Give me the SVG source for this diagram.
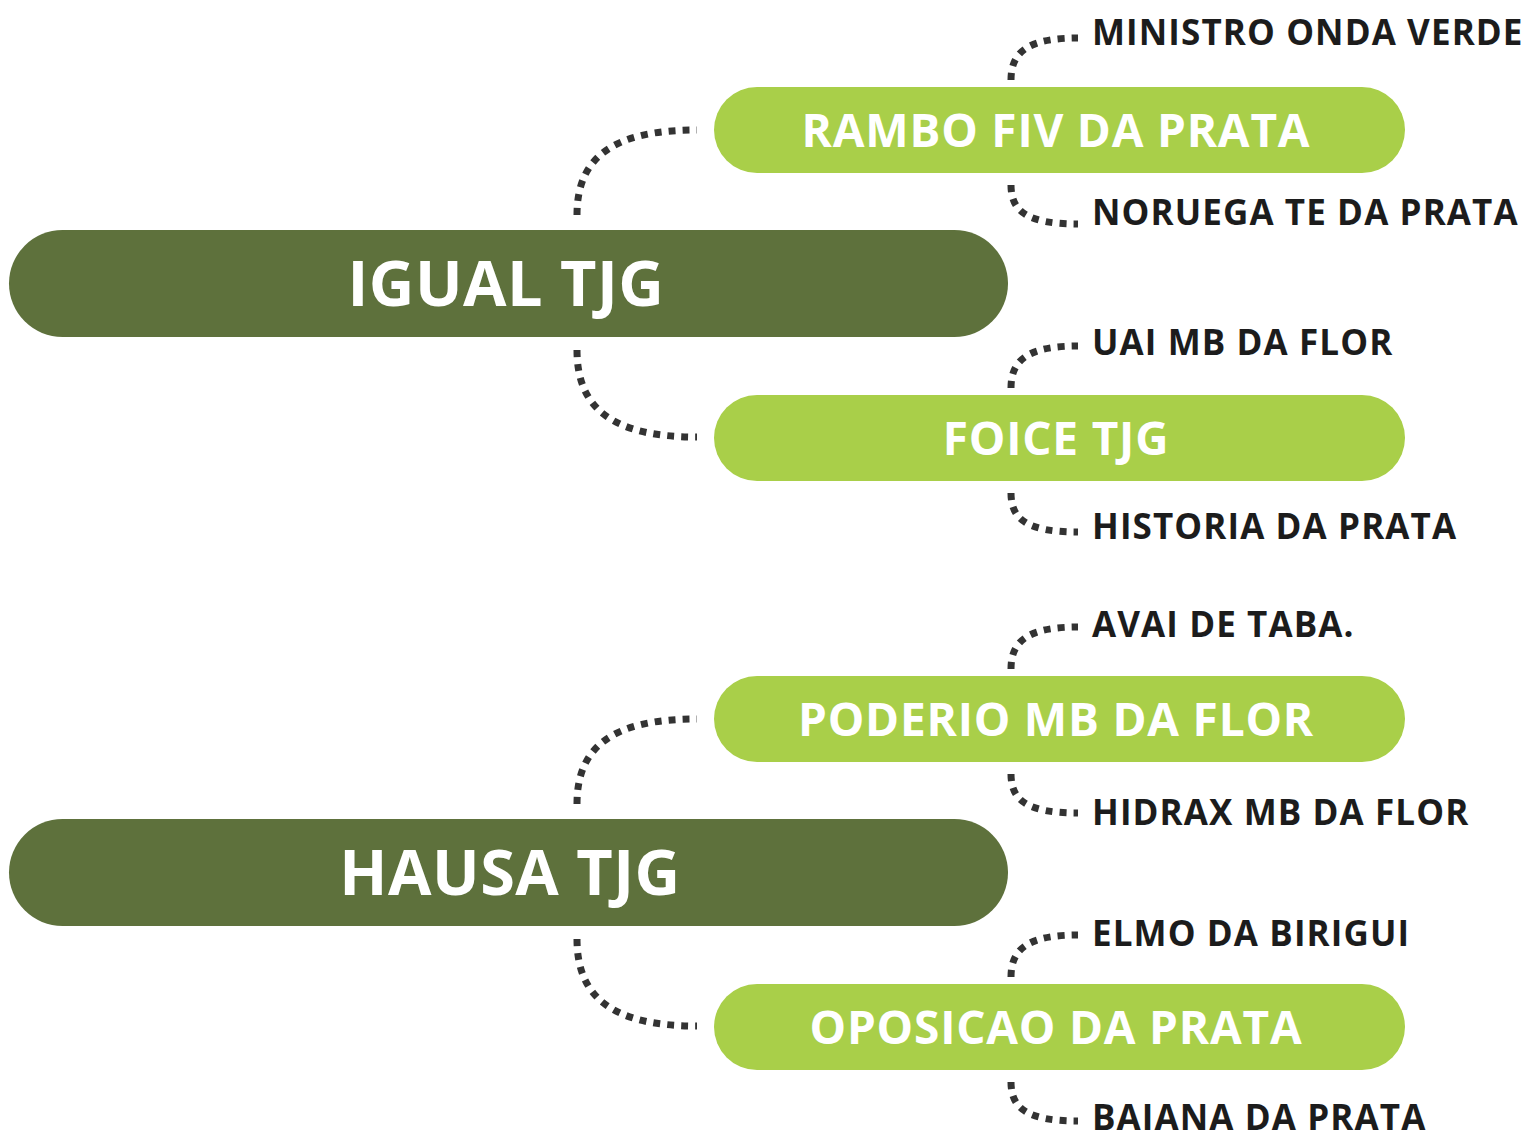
<svg xmlns="http://www.w3.org/2000/svg" width="1526" height="1134" viewBox="0 0 1526 1134">
<style>
.main{fill:#5e713c}
.sub{fill:#a9cf49}
.mt{font-family:"Open Sans","Liberation Sans",sans-serif;font-weight:bold;fill:#fff;font-size:63px;letter-spacing:0.5px;text-anchor:middle}
.st{font-family:"Open Sans","Liberation Sans",sans-serif;font-weight:bold;fill:#fff;font-size:46px;letter-spacing:0.8px;text-anchor:middle}
.lt{font-family:"Open Sans","Liberation Sans",sans-serif;font-weight:bold;fill:#1c1c1c;font-size:35px;letter-spacing:1.1px}
.c{fill:none;stroke:#333;stroke-width:7;stroke-dasharray:7 7}
</style>
<rect width="1526" height="1134" fill="#fff"/>
<g id="connectors">
<path class="c" d="M577,215 C577,158 612,130 697,130"/>
<path class="c" d="M577,350 C577,408 612,437 697,437"/>
<path class="c" d="M1011,80 C1011,52 1028,38 1078,38"/>
<path class="c" d="M1011,185 C1011,212 1028,224 1078,224"/>
<path class="c" d="M1011,388 C1011,360 1028,346 1078,346"/>
<path class="c" d="M1011,493 C1011,520 1028,532 1078,532"/>
<path class="c" d="M577,804 C577,747 612,719 697,719"/>
<path class="c" d="M577,939 C577,997 612,1026 697,1026"/>
<path class="c" d="M1011,669 C1011,641 1028,627 1078,627"/>
<path class="c" d="M1011,774 C1011,801 1028,813 1078,813"/>
<path class="c" d="M1011,977 C1011,949 1028,935 1078,935"/>
<path class="c" d="M1011,1082 C1011,1109 1028,1121 1078,1121"/>
</g>
<g id="igual"><rect class="main" x="9" y="230" width="999" height="107" rx="53.5"/><text class="mt" x="506" y="306">IGUAL TJG</text></g>
<g id="rambo"><rect class="sub" x="714" y="87" width="691" height="86" rx="43"/><text class="st" x="1056" y="147">RAMBO FIV DA PRATA</text></g>
<g id="foice"><rect class="sub" x="714" y="395" width="691" height="86" rx="43"/><text class="st" x="1056" y="455">FOICE TJG</text></g>
<g id="hausa"><rect class="main" x="9" y="819" width="999" height="107" rx="53.5"/><text class="mt" x="510" y="895">HAUSA TJG</text></g>
<g id="poderio"><rect class="sub" x="714" y="676" width="691" height="86" rx="43"/><text class="st" x="1056" y="736">PODERIO MB DA FLOR</text></g>
<g id="oposicao"><rect class="sub" x="714" y="984" width="691" height="86" rx="43"/><text class="st" x="1056" y="1044">OPOSICAO DA PRATA</text></g>
<g id="ministro"><text class="lt" x="1092" y="45">MINISTRO ONDA VERDE</text></g>
<g id="noruega"><text class="lt" x="1092" y="225">NORUEGA TE DA PRATA</text></g>
<g id="uai"><text class="lt" x="1092" y="355">UAI MB DA FLOR</text></g>
<g id="historia"><text class="lt" x="1092" y="539">HISTORIA DA PRATA</text></g>
<g id="avai"><text class="lt" x="1092" y="637">AVAI DE TABA.</text></g>
<g id="hidrax"><text class="lt" x="1092" y="825">HIDRAX MB DA FLOR</text></g>
<g id="elmo"><text class="lt" x="1092" y="946">ELMO DA BIRIGUI</text></g>
<g id="baiana"><text class="lt" x="1092" y="1130">BAIANA DA PRATA</text></g>
</svg>
